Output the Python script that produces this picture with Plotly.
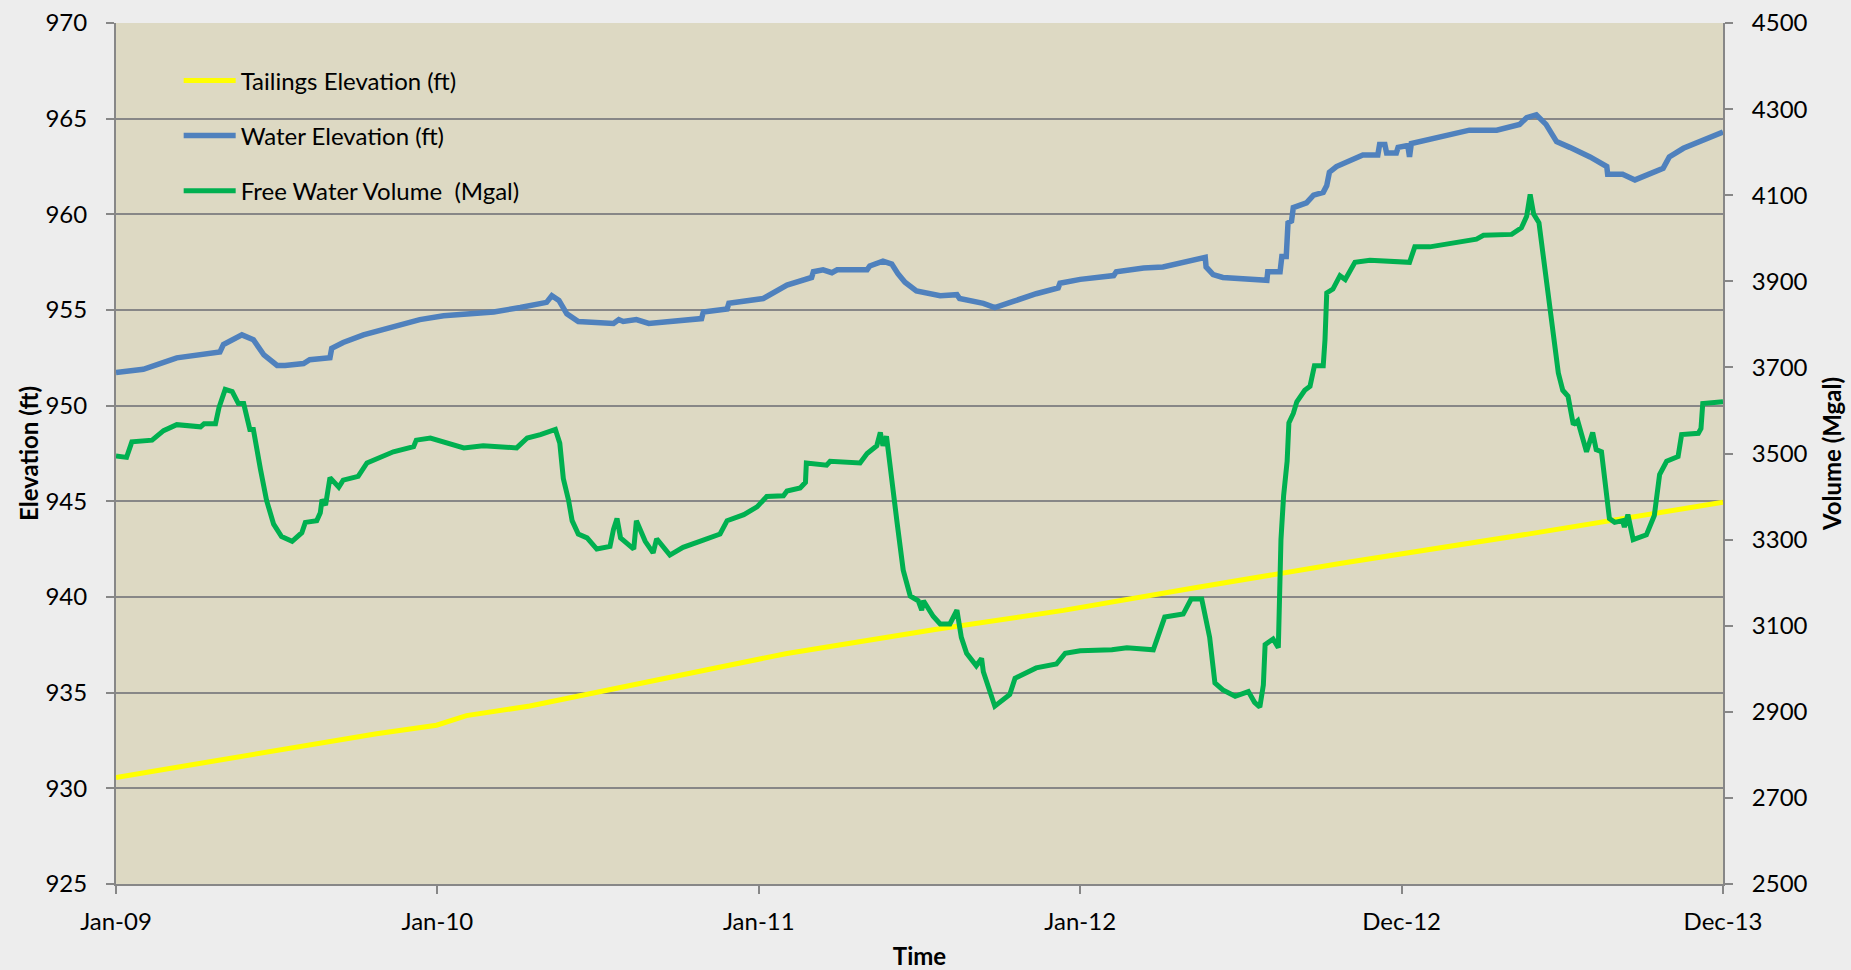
import pandas as pd
import plotly.graph_objects as go

START = "2009-01-01"

# Tailings elevation (ft): day offset from START, value
tail_days = [0, 145, 296, 364, 398, 470, 610, 762, 930, 1076, 1227, 1390, 1605, 1825]
tail_elev = [930.57, 931.7, 932.85, 933.3, 933.8, 934.3, 935.6, 937.05, 938.3, 939.3, 940.5, 941.75, 943.3, 944.95]

# Water elevation (ft)
water_days = [0, 31, 50, 69, 118, 122, 143, 156, 168, 183, 192, 213, 220, 243, 245, 258, 281, 315, 345, 372,
              398, 429, 459, 489, 495, 503, 512, 525, 565, 571, 576, 591, 605, 629, 665, 667, 694, 696, 735, 762,
              790, 792, 803, 813, 819, 853, 856, 871, 881, 888, 896, 909, 936, 955, 958, 985, 998, 1019, 1045, 1070,
              1072, 1095, 1133, 1136, 1167, 1189, 1227, 1237, 1238, 1246, 1257, 1307, 1308, 1322, 1324, 1329, 1331, 1335, 1337, 1352,
              1360, 1371, 1375, 1378, 1386, 1401, 1416, 1433, 1435, 1441, 1443, 1454, 1456, 1467, 1469, 1471, 1492, 1537, 1568, 1594,
              1602, 1613, 1624, 1636, 1651, 1674, 1693, 1694, 1711, 1725, 1757, 1764, 1780, 1802, 1825]
water_elev = [951.73, 951.9, 952.2, 952.5, 952.8, 953.2, 953.7, 953.45, 952.65, 952.1, 952.1, 952.2, 952.4, 952.5, 953.0, 953.3, 953.7, 954.1, 954.5, 954.7,
              954.8, 954.9, 955.13, 955.4, 955.75, 955.5, 954.8, 954.4, 954.3, 954.5, 954.4, 954.5, 954.3, 954.4, 954.55, 954.9, 955.05, 955.35, 955.6, 956.3,
              956.7, 957.0, 957.1, 956.95, 957.1, 957.1, 957.3, 957.55, 957.4, 956.9, 956.45, 956.0, 955.75, 955.8, 955.6, 955.35, 955.13, 955.45, 955.85, 956.15,
              956.4, 956.6, 956.8, 957.0, 957.2, 957.25, 957.6, 957.75, 957.25, 956.85, 956.7, 956.55, 957.0, 957.0, 957.8, 957.8, 959.55, 959.65, 960.35, 960.6,
              961.0, 961.15, 961.5, 962.2, 962.5, 962.8, 963.1, 963.1, 963.65, 963.65, 963.2, 963.2, 963.5, 963.6, 963.0, 963.7, 963.9, 964.4, 964.4, 964.7,
              965.05, 965.2, 964.7, 963.8, 963.5, 963.0, 962.5, 962.1, 962.1, 961.8, 962.4, 963.0, 963.45, 963.9, 964.3]

# Free water volume (Mgal)
vol_days = [0, 12, 18, 41, 54, 69, 96, 100, 113, 117, 124, 132, 139, 145, 152, 156, 164, 171, 179, 188,
            200, 211, 215, 228, 232, 234, 238, 241, 243, 253, 258, 275, 285, 315, 338, 341, 357, 395, 417, 455,
            467, 482, 499, 504, 508, 514, 518, 525, 535, 546, 561, 565, 569, 573, 588, 591, 601, 610, 614, 629,
            644, 663, 686, 694, 713, 728, 739, 758, 762, 777, 783, 784, 807, 811, 845, 853, 864, 868, 871, 875,
            881, 887, 894, 902, 911, 915, 917, 928, 936, 947, 955, 960, 966, 977, 983, 985, 998, 1015, 1021, 1045,
            1068, 1078, 1095, 1131, 1148, 1178, 1191, 1212, 1221, 1233, 1242, 1248, 1257, 1271, 1286, 1293, 1299, 1303, 1305, 1314,
            1320, 1323, 1326, 1330, 1332, 1337, 1341, 1350, 1356, 1361, 1371, 1373, 1375, 1382, 1390, 1396, 1407, 1424, 1469, 1475,
            1492, 1526, 1545, 1553, 1585, 1596, 1602, 1606, 1610, 1616, 1624, 1630, 1638, 1643, 1649, 1655, 1660, 1670, 1677, 1681,
            1687, 1696, 1702, 1711, 1713, 1717, 1723, 1738, 1747, 1753, 1761, 1774, 1778, 1797, 1800, 1802, 1814, 1825]
vol_mgal = [3494, 3491, 3527, 3531, 3553, 3567, 3562, 3569, 3569, 3607, 3649, 3644, 3616, 3616, 3556, 3556, 3464, 3391, 3336, 3307,
            3296, 3316, 3340, 3344, 3362, 3393, 3380, 3427, 3444, 3422, 3438, 3447, 3478, 3504, 3516, 3531, 3536, 3513, 3518, 3513,
            3536, 3544, 3556, 3524, 3442, 3391, 3344, 3313, 3304, 3278, 3284, 3324, 3349, 3304, 3278, 3344, 3296, 3269, 3302, 3264,
            3282, 3296, 3313, 3344, 3358, 3376, 3400, 3402, 3413, 3420, 3433, 3478, 3473, 3482, 3478, 3500, 3518, 3549, 3518, 3540,
            3433, 3340, 3229, 3169, 3158, 3136, 3158, 3122, 3104, 3104, 3136, 3073, 3036, 3007, 3024, 2993, 2913, 2940, 2978, 3002,
            3011, 3036, 3042, 3044, 3049, 3044, 3120, 3127, 3162, 3162, 3073, 2967, 2951, 2936, 2947, 2922, 2911, 2962, 3056, 3069,
            3049, 3300, 3402, 3482, 3571, 3593, 3620, 3647, 3656, 3704, 3704, 3764, 3873, 3882, 3913, 3904, 3944, 3949, 3944, 3980,
            3980, 3993, 3998, 4007, 4009, 4024, 4051, 4102, 4056, 4036, 3913, 3831, 3687, 3647, 3633, 3567, 3576, 3504, 3549, 3509,
            3504, 3349, 3340, 3344, 3329, 3358, 3300, 3311, 3356, 3451, 3482, 3493, 3544, 3547, 3558, 3616, 3618, 3620]

tick_dates = ["2009-01-01", "2010-01-01", "2011-01-01", "2012-01-01", "2012-12-31", "2013-12-31"]
tick_labels = ["Jan-09", "Jan-10", "Jan-11", "Jan-12", "Dec-12", "Dec-13"]


def to_dates(days):
    return pd.Timestamp(START) + pd.to_timedelta(days, unit="D")


FONT = "Lato"
GRID = "#878787"
FS = 24

fig = go.Figure()
fig.add_trace(go.Scatter(x=to_dates(tail_days), y=tail_elev, mode="lines", name="Tailings Elevation (ft)",
                         line=dict(color="#FFFF00", width=5), legendgroup="a"))
fig.add_trace(go.Scatter(x=to_dates(water_days), y=water_elev, mode="lines", name="Water Elevation (ft)",
                         line=dict(color="#4F81BD", width=5.5), legendgroup="b"))
fig.add_trace(go.Scatter(x=to_dates(vol_days), y=vol_mgal, mode="lines", name="Free Water Volume  (Mgal)",
                         line=dict(color="#00B050", width=5), legendgroup="c", yaxis="y2"))

fig.update_layout(
    width=1851, height=970,
    paper_bgcolor="#EDEDED",
    plot_bgcolor="#DDD9C3",
    margin=dict(l=116, r=128, t=23, b=86, autoexpand=False),
    font=dict(family=FONT, size=FS, color="#000000"),
    showlegend=True,
    legend=dict(x=0.039, y=0.959, xanchor="left", yanchor="top", bgcolor="rgba(0,0,0,0)",
                font=dict(size=FS), tracegroupgap=21, itemwidth=52, traceorder="grouped"),
    xaxis=dict(type="date", range=["2009-01-01", "2013-12-31"], tickvals=tick_dates, ticktext=tick_labels,
               showgrid=False, showline=True, linecolor=GRID, linewidth=2, ticks="outside", ticklen=8,
               tickcolor=GRID, tickwidth=1.5, ticklabelstandoff=7,
               title=dict(text="<b>Time</b>", standoff=24, font=dict(size=FS))),
    yaxis=dict(range=[925, 970], dtick=5, tick0=925, showgrid=True, gridcolor=GRID, gridwidth=2,
               showline=True, linecolor=GRID, linewidth=2, ticks="outside", ticklen=8, tickcolor=GRID,
               tickwidth=1.5, ticklabelstandoff=14, zeroline=False,
               title=dict(text="<b>Elevation (ft)</b>", standoff=0, font=dict(size=FS))),
    yaxis2=dict(range=[2500, 4500], dtick=200, tick0=2500, overlaying="y", side="right", showgrid=False,
                showline=True, linecolor=GRID, linewidth=2, ticks="outside", ticklen=8, tickcolor=GRID,
                tickwidth=1.5, ticklabelstandoff=14, zeroline=False,
                title=dict(text="<b>Volume (Mgal)</b>", standoff=18, font=dict(size=FS))),
)

fig.write_html("out.html", config={"displayModeBar": False},
               post_script="document.body.style.margin='0';document.body.style.background='#EDEDED';")
